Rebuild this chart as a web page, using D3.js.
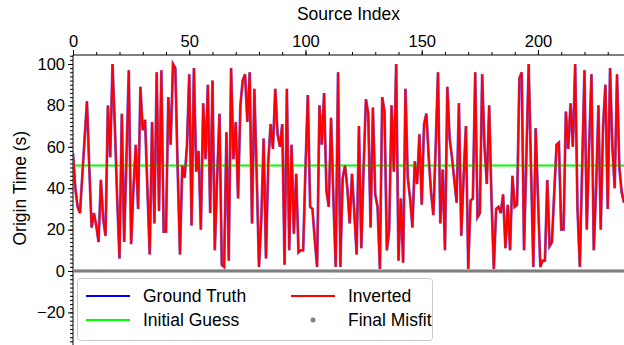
<!DOCTYPE html>
<html>
<head>
<script src="https://d3js.org/d3.v7.min.js"></script>
<style>
  body { margin: 0; background: #fff; }
  svg { font-family: "Liberation Sans", Arial, sans-serif; }
</style>
</head>
<body>
<div id="chart"></div>
<script>
// origin times (s) per source index
const groundTruth = [
  57, 40, 31, 28, 46, 64, 82, 50, 21, 28, 22, 14, 44, 25, 17, 80, 55, 100, 70, 35,
  6, 76, 14, 55, 97, 13, 40, 61, 30, 89, 68, 73, 40, 8, 72, 23, 96, 29, 97, 19,
  19, 84, 61, 100, 98, 50, 8, 51, 45, 60, 95, 22, 98, 48, 58, 20, 81, 54, 90, 28,
  92, 10, 45, 76, 3, 2, 67, 5, 98, 54, 72, 35, 80, 92, 95, 72, 96, 23, 88, 47,
  2, 25, 64, 6, 53, 71, 59, 88, 66, 60, 71, 3, 88, 10, 61, 18, 47, 9, 10, 10,
  50, 85, 31, 30, 15, 2, 80, 61, 86, 39, 31, 74, 35, 2, 96, 2, 45, 51, 40, 23,
  47, 28, 8, 70, 11, 50, 83, 76, 21, 79, 37, 31, 1, 84, 77, 10, 20, 80, 48, 100,
  5, 35, 4, 88, 45, 35, 21, 53, 42, 66, 32, 71, 76, 55, 38, 27, 60, 96, 23, 49,
  10, 89, 64, 55, 44, 33, 81, 17, 45, 70, 1, 34, 35, 96, 26, 28, 95, 60, 42, 80,
  35, 1, 30, 31, 28, 37, 11, 32, 10, 46, 31, 32, 93, 96, 10, 55, 100, 50, 2, 69,
  35, 2, 5, 5, 44, 12, 14, 38, 61, 62, 20, 20, 77, 59, 81, 60, 100, 30, 2, 50,
  97, 20, 60, 95, 10, 40, 80, 20, 70, 90, 30, 98, 60, 40, 95, 50, 38, 33
];
// the inversion lands on the truth to within the line width
const inverted = groundTruth.slice();
const initialGuess = 51;
const finalMisfit = inverted.map((v, i) => Math.abs(v - groundTruth[i]));

const xTicks = [0, 50, 100, 150, 200];
const yTicks = [-20, 0, 20, 40, 60, 80, 100];

const W = 624, H = 345;
const margin = { top: 55, right: 0, bottom: 0, left: 73 };

const svg = d3.select('#chart').append('svg')
  .attr('width', W).attr('height', H);

const x = d3.scaleLinear()
  .domain([0, groundTruth.length - 1])
  .range([margin.left, W - margin.right]);

const y = d3.scaleLinear()
  .domain([0, 100])
  .range([271, 64]);

// top axis
const xAxis = svg.append('g')
  .attr('transform', `translate(0,${margin.top})`)
  .call(d3.axisTop(x).tickValues(xTicks).tickSize(5).tickPadding(3).tickFormat(d3.format('d')));
xAxis.select('.domain').remove();
xAxis.selectAll('text').attr('font-size', 16.5).attr('fill', '#000');

svg.append('g')
  .attr('transform', `translate(0,${margin.top})`)
  .call(d3.axisTop(x).tickValues(d3.range(0, 240, 10)).tickSize(3).tickFormat(''))
  .select('.domain').remove();

svg.append('line')
  .attr('x1', margin.left).attr('x2', W)
  .attr('y1', margin.top).attr('y2', margin.top)
  .attr('stroke', '#000');

// left axis
const yAxis = svg.append('g')
  .attr('transform', `translate(${margin.left},0)`)
  .call(d3.axisLeft(y).tickValues(yTicks).tickSize(5).tickPadding(3)
    .tickFormat(d => d < 0 ? '\u2212' + Math.abs(d) : d));
yAxis.select('.domain').remove();
yAxis.selectAll('text').attr('font-size', 16.5).attr('fill', '#000');

svg.append('g')
  .attr('transform', `translate(${margin.left},0)`)
  .call(d3.axisLeft(y).tickValues(d3.range(-36, 105, 2)).tickSize(3).tickFormat(''))
  .select('.domain').remove();

svg.append('line')
  .attr('x1', margin.left).attr('x2', margin.left)
  .attr('y1', margin.top).attr('y2', H)
  .attr('stroke', '#000');

svg.append('text')
  .attr('x', (margin.left + W) / 2).attr('y', 20)
  .attr('text-anchor', 'middle').attr('font-size', 17.5)
  .text('Source Index');

svg.append('text')
  .attr('transform', `translate(26,${y(40)}) rotate(-90)`)
  .attr('text-anchor', 'middle').attr('font-size', 17.5)
  .text('Origin Time (s)');

// plot area
const plot = svg.append('g');
plot.append('clipPath').attr('id', 'clip')
  .append('rect').attr('x', margin.left).attr('y', margin.top)
  .attr('width', W - margin.left).attr('height', H - margin.top);
const g = plot.append('g').attr('clip-path', 'url(#clip)');

const line = d3.line().x((d, i) => x(i)).y(d => y(d));

g.append('path').datum(groundTruth)
  .attr('d', line).attr('fill', 'none')
  .attr('stroke', '#0000ff').attr('stroke-width', 2.8).attr('stroke-opacity', 0.6);

g.append('line')
  .attr('x1', x(0)).attr('x2', x(groundTruth.length - 1))
  .attr('y1', y(initialGuess)).attr('y2', y(initialGuess))
  .attr('stroke', '#00ff00').attr('stroke-width', 2);

g.append('path').datum(inverted)
  .attr('d', line).attr('fill', 'none')
  .attr('stroke', '#ff0000').attr('stroke-width', 2);

g.selectAll('circle.misfit').data(finalMisfit).enter()
  .append('circle').attr('class', 'misfit')
  .attr('cx', (d, i) => x(i)).attr('cy', d => y(d))
  .attr('r', 1.8).attr('fill', '#808080');

// legend
const lg = svg.append('g');
lg.append('rect')
  .attr('x', 77.5).attr('y', 278.5).attr('width', 355).attr('height', 62)
  .attr('rx', 3).attr('fill', '#fff').attr('fill-opacity', 0.85)
  .attr('stroke', '#ccc');

const items = [
  { label: 'Ground Truth', color: '#0000ff', type: 'line', col: 0, row: 0 },
  { label: 'Inverted', color: '#ff0000', type: 'line', col: 1, row: 0 },
  { label: 'Initial Guess', color: '#00ff00', type: 'line', col: 0, row: 1 },
  { label: 'Final Misfit', color: '#808080', type: 'dot', col: 1, row: 1 }
];
items.forEach(it => {
  const x0 = it.col ? 291 : 86;
  const yy = it.row ? 320 : 296;
  if (it.type === 'line') {
    lg.append('line').attr('x1', x0).attr('x2', x0 + 44)
      .attr('y1', yy).attr('y2', yy)
      .attr('stroke', it.color).attr('stroke-width', 2);
  } else {
    lg.append('circle').attr('cx', x0 + 22).attr('cy', yy).attr('r', 2.5).attr('fill', it.color);
  }
  lg.append('text').attr('x', x0 + 57).attr('y', yy + 6)
    .attr('font-size', 17.5).text(it.label);
});
</script>
</body>
</html>
